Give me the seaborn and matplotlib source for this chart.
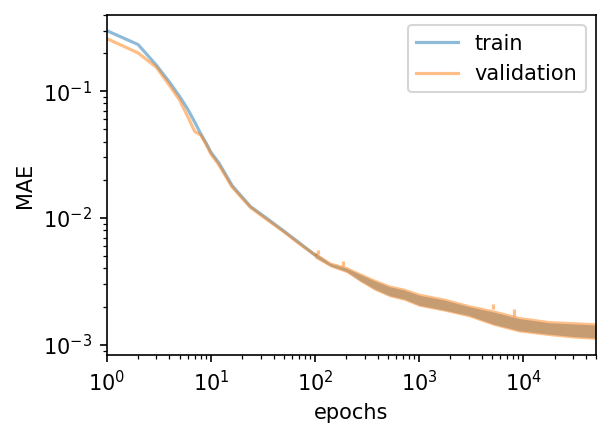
import matplotlib
matplotlib.use("Agg")
import matplotlib.pyplot as plt
import seaborn as sns
import pandas as pd

# early epochs: smooth part of the curves
early_epochs = [1, 2, 3, 4, 5, 6, 7, 8, 9, 10, 12, 16, 24, 34, 50, 70, 100]
train_early = [0.30, 0.233, 0.160, 0.118, 0.091, 0.072, 0.057, 0.046, 0.039, 0.033,
               0.027, 0.018, 0.0123, 0.0100, 0.0079, 0.0064, 0.0051]
val_early = [0.26, 0.20, 0.154, 0.111, 0.085, 0.063, 0.048, 0.045, 0.038, 0.032,
             0.026, 0.0175, 0.0121, 0.0098, 0.0078, 0.0063, 0.0051]

# late epochs: noisy part, drawn as a band (low / high edges)
band_epochs = [100, 140, 200, 270, 370, 520, 720, 1000, 1750, 3000, 5200, 9100, 17700, 30000, 50000]
train_low = [0.00490, 0.00418, 0.00378, 0.00321, 0.00276, 0.00244, 0.00229, 0.00205,
             0.00187, 0.00170, 0.00145, 0.00129, 0.00121, 0.00116, 0.00113]
train_high = [0.00530, 0.00440, 0.00402, 0.00360, 0.00320, 0.00287, 0.00270, 0.00246,
              0.00225, 0.00200, 0.00181, 0.00161, 0.00149, 0.00146, 0.00143]
val_low = [0.00484, 0.00411, 0.00371, 0.00315, 0.00270, 0.00239, 0.00224, 0.00201,
           0.00184, 0.00166, 0.00142, 0.00126, 0.00118, 0.00113, 0.00110]
val_high = [0.00540, 0.00449, 0.00414, 0.00370, 0.00330, 0.00296, 0.00279, 0.00255,
            0.00233, 0.00207, 0.00188, 0.00167, 0.00155, 0.00152, 0.00149]

# a few visible spikes on the validation curve
spike_epochs = [106, 187, 5100, 8200]
spike_base = [0.0052, 0.0042, 0.0019, 0.00167]
spike_top = [0.0056, 0.0046, 0.0021, 0.0019]

blue = "tab:blue"
orange = "tab:orange"

early = pd.DataFrame({"epoch": early_epochs, "train": train_early, "validation": val_early})

fig = plt.figure(figsize=(610 / 150, 435 / 150), dpi=150)
ax = fig.add_axes([0.175, 0.184, 0.802, 0.782])

sns.lineplot(data=early, x="epoch", y="train", ax=ax, color=blue, alpha=0.5, lw=1.5, label="train")
sns.lineplot(data=early, x="epoch", y="validation", ax=ax, color=orange, alpha=0.5, lw=1.5, label="validation")

ax.fill_between(band_epochs, train_low, train_high, color=blue, alpha=0.5, lw=0)
ax.fill_between(band_epochs, val_low, val_high, color=orange, alpha=0.5, lw=0)
ax.vlines(spike_epochs, spike_base, spike_top, color=orange, alpha=0.5, lw=1.5)

ax.set_xscale("log")
ax.set_yscale("log")
ax.set_xlim(1, 50000)
ax.set_ylim(8.3e-4, 0.40)
ax.set_xlabel("epochs")
ax.set_ylabel("MAE")
ax.legend(loc="upper right")

fig.savefig("out.png", dpi=150)
